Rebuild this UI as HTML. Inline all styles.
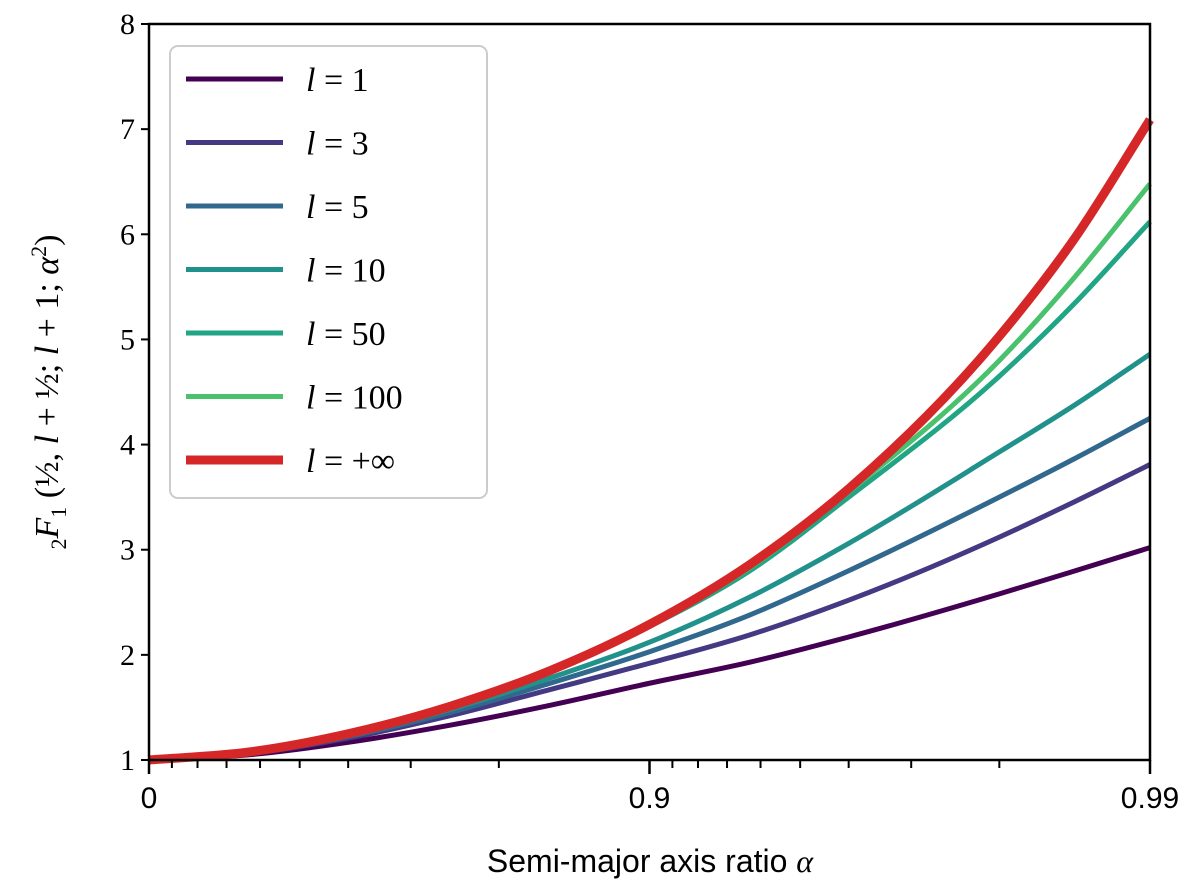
<!DOCTYPE html>
<html><head><meta charset="utf-8"><style>
body{margin:0;background:#fff;}
svg{display:block;}
</style></head><body>
<svg id="chart" width="1200" height="894" xmlns="http://www.w3.org/2000/svg">
<g id="plot"></g>
</svg>
<script>
const alphas = [0, 0.369, 0.602, 0.749, 0.842, 0.9, 0.937, 0.960, 0.980, 0.9859, 0.99];
const seriesNames = ["l = 1","l = 3","l = 5","l = 10","l = 50","l = 100","l = +∞"];
const s_l1   = [1, 1.05, 1.17, 1.33, 1.52, 1.73, 1.93, 2.17, 2.58, 2.80, 3.02];
const s_l3   = [1, 1.06, 1.21, 1.42, 1.67, 1.92, 2.19, 2.52, 3.12, 3.46, 3.81];
const s_l5   = [1, 1.065, 1.225, 1.45, 1.73, 2.03, 2.38, 2.80, 3.50, 3.87, 4.25];
const s_l10  = [1, 1.07, 1.235, 1.48, 1.78, 2.12, 2.55, 3.06, 3.93, 4.38, 4.86];
const s_l50  = [1, 1.075, 1.25, 1.505, 1.84, 2.27, 2.80, 3.50, 4.65, 5.35, 6.12];
const s_l100 = [1, 1.076, 1.251, 1.507, 1.845, 2.28, 2.83, 3.55, 4.80, 5.60, 6.48];
const s_linf = [1, 1.076, 1.252, 1.509, 1.85, 2.29, 2.86, 3.58, 5.03, 5.97, 7.09];
const colors = ["#440154","#443983","#31688e","#21918c","#21a585","#4ac16d","#d62728"];
const widths = [5,5,5,5,5,5,9];
const yTicks = [1,2,3,4,5,6,7,8];
const xMajor = [0, 0.9, 0.99];
const xMajorLabels = ["0","0.9","0.99"];
const xMinor = [0.1,0.2,0.3,0.4,0.5,0.6,0.7,0.8,0.91,0.92,0.93,0.94,0.95,0.96,0.97,0.98];

const NS="http://www.w3.org/2000/svg";
const X0=149,X1=1150,Y0=760,Y1=24;
function xs(a){const u=-Math.log10(1-a);return X0+(X1-X0)*u/2;}
function ys(v){return Y0-(Y0-Y1)*(v-1)/7;}
const plot=document.getElementById('plot');
function mk(tag,attrs,parent){const e=document.createElementNS(NS,tag);for(const k in attrs)e.setAttribute(k,attrs[k]);(parent||plot).appendChild(e);return e;}

// monotone-ish smooth path (Fritsch-Carlson)
function pathFor(vals){
  const p=alphas.map((a,i)=>[xs(a),ys(vals[i])]);
  const n=p.length, d=[], m=[];
  for(let i=0;i<n-1;i++) d.push((p[i+1][1]-p[i][1])/(p[i+1][0]-p[i][0]));
  m[0]=d[0]; m[n-1]=d[n-2];
  for(let i=1;i<n-1;i++){
    const h0=p[i][0]-p[i-1][0], h1=p[i+1][0]-p[i][0];
    m[i]=(d[i-1]*h1+d[i]*h0)/(h0+h1);
  }
  let s="M"+p[0][0]+","+p[0][1];
  for(let i=0;i<n-1;i++){
    const h=(p[i+1][0]-p[i][0])/3;
    s+=" C"+(p[i][0]+h)+","+(p[i][1]+m[i]*h)+" "+(p[i+1][0]-h)+","+(p[i+1][1]-m[i+1]*h)+" "+p[i+1][0]+","+p[i+1][1];
  }
  return s;
}
const allSeries=[s_l1,s_l3,s_l5,s_l10,s_l50,s_l100,s_linf];
const lineNames=['line-l1','line-l3','line-l5','line-l10','line-l50','line-l100','line-linf'];
allSeries.forEach((s,i)=>{
  const el=mk('path',{d:pathFor(s),fill:'none',stroke:colors[i],'stroke-width':widths[i],'stroke-linejoin':'round'});
  
  
});
const fr=mk('rect',{x:X0,y:Y1,width:X1-X0,height:Y0-Y1,fill:'none',stroke:'#000','stroke-width':2.5});


yTicks.forEach(v=>{
  const t=mk('line',{x1:X0,x2:X0-8,y1:ys(v),y2:ys(v),stroke:'#000','stroke-width':2});
  
  
  const l=mk('text',{x:X0-14,y:ys(v)+10,'text-anchor':'end','font-family':'Liberation Serif, serif','font-size':30});
  l.textContent=v;
  
  
});
xMajor.forEach((a,i)=>{
  const t=mk('line',{x1:xs(a),x2:xs(a),y1:Y0,y2:Y0+14,stroke:'#000','stroke-width':2.5});
  
  
  const l=mk('text',{x:xs(a),y:Y0+48,'text-anchor':'middle','font-family':'Liberation Sans, sans-serif','font-size':30});
  l.textContent=xMajorLabels[i];
  
  
});
xMinor.forEach(a=>{
  const t=mk('line',{x1:xs(a),x2:xs(a),y1:Y0,y2:Y0+8,stroke:'#000','stroke-width':2});
  
  
});
const xl=mk('text',{x:650,y:872,'text-anchor':'middle','font-family':'Liberation Sans, sans-serif','font-size':32});
xl.innerHTML='Semi-major axis ratio <tspan font-family="Liberation Serif, serif" font-style="italic">α</tspan>';


const yl=mk('text',{x:0,y:0,transform:'translate(58,392) rotate(-90)','text-anchor':'middle','font-family':'Liberation Serif, serif','font-size':34});
yl.innerHTML='<tspan font-size="22" dy="8">2</tspan><tspan font-style="italic" dy="-8">F</tspan><tspan font-size="22" dy="8">1</tspan><tspan dy="-8"> (½, </tspan><tspan font-style="italic">l</tspan><tspan> + ½; </tspan><tspan font-style="italic">l</tspan><tspan> + 1; </tspan><tspan font-style="italic">α</tspan><tspan font-size="22" dy="-12">2</tspan><tspan dy="12">)</tspan>';


const lg=mk('g',{});


mk('rect',{x:170,y:46,width:317,height:452,rx:8,fill:'#fff','fill-opacity':0.85,stroke:'#ccc','stroke-width':2},lg);
seriesNames.forEach((n,i)=>{
  const y=79+i*63.5;
  const g=mk('g',{},lg);
  
  
  mk('line',{x1:186,x2:283,y1:y,y2:y,stroke:colors[i],'stroke-width':widths[i]},g);
  const t=mk('text',{x:306,y:y+12,'font-family':'Liberation Serif, serif','font-size':34},g);
  const parts=n.split(' = ');
  t.innerHTML='<tspan font-style="italic">'+parts[0]+'</tspan> = '+parts[1];
});
</script>
</body></html>
